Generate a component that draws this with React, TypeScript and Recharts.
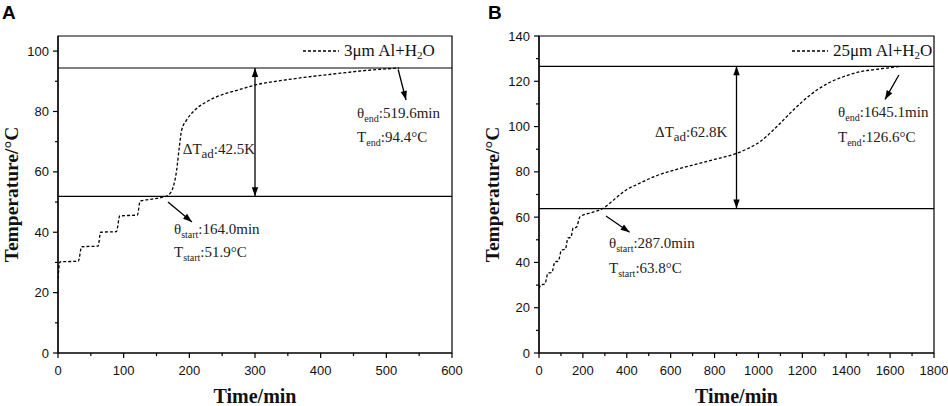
import React from "react";
import {
  LineChart, Line, XAxis, YAxis, ReferenceLine, ReferenceArea, ReferenceDot, Legend
} from "recharts";

// panel A: 3um powder
const timeA = [0, 3, 31, 36, 61, 65, 89, 94, 121, 125, 150, 164, 168, 175.6, 180.7, 184.8, 188.3, 196, 208.6, 226, 251.8, 277, 302.6, 335.5, 368, 419, 470, 519.6];
const tempA = [24.7, 30.2, 30.4, 35.2, 35.4, 40.0, 40.2, 45.4, 45.7, 50.3, 51.2, 51.9, 52.3, 55.1, 60.6, 68.3, 73.8, 77.2, 80.5, 83.2, 85.7, 87.3, 88.9, 90.1, 91.1, 92.4, 93.6, 94.4];
const xMajorA = [0, 100, 200, 300, 400, 500, 600];
const xMinorA = [50, 150, 250, 350, 450, 550];
const yMajorA = [0, 20, 40, 60, 80, 100];
const yMinorA = [10, 30, 50, 70, 90];

// panel B: 25um powder
const timeB = [0, 8, 27, 41, 58, 73, 87, 103, 120, 132, 145, 156, 170, 187, 240, 290, 350, 400, 442, 525, 673, 800, 893, 950, 1007, 1083, 1159, 1235, 1311, 1387, 1463, 1539, 1600, 1645.1];
const tempB = [28.5, 30, 30.5, 35.3, 35.5, 40.3, 40.5, 45.5, 45.8, 50.8, 51, 55.3, 55.5, 60.2, 62, 63.8, 68.4, 72.2, 74.2, 77.9, 82.3, 85.5, 87.9, 90.2, 93.3, 99.9, 107.3, 113.9, 118.8, 122.0, 124.2, 125.3, 126.0, 126.6];
const xMajorB = [0, 200, 400, 600, 800, 1000, 1200, 1400, 1600, 1800];
const xMinorB = [100, 300, 500, 700, 900, 1100, 1300, 1500, 1700];
const yMajorB = [0, 20, 40, 60, 80, 100, 120, 140];
const yMinorB = [10, 30, 50, 70, 90, 110, 130];

const serif = "'Liberation Serif', 'Times New Roman', serif";
const sans = "'Liberation Sans', Arial, sans-serif";

const toRows = (t: number[], v: number[]) => t.map((x, i) => ({ t: x, temp: v[i] }));

type Note = { x: number; y: number; main: string; sub: string; rest: string; subSize?: number };

const notesA: Note[] = [
  { x: 190, y: 67.5, main: "ΔT", sub: "ad", rest: ":42.5K", subSize: 13 },
  { x: 455.5, y: 79.5, main: "θ", sub: "end", rest: ":519.6min" },
  { x: 455.5, y: 71.6, main: "T", sub: "end", rest: ":94.4°C" },
  { x: 176.6, y: 41.0, main: "θ", sub: "start", rest: ":164.0min" },
  { x: 176.6, y: 33.5, main: "T", sub: "start", rest: ":51.9°C" },
];
const notesB: Note[] = [
  { x: 528.6, y: 97.6, main: "ΔT", sub: "ad", rest: ":62.8K", subSize: 13 },
  { x: 1362.6, y: 106.4, main: "θ", sub: "end", rest: ":1645.1min" },
  { x: 1362.6, y: 95.4, main: "T", sub: "end", rest: ":126.6°C" },
  { x: 319, y: 48.6, main: "θ", sub: "start", rest: ":287.0min" },
  { x: 319, y: 37.5, main: "T", sub: "start", rest: ":63.8°C" },
];

// arrows: [from, to], head at "to"; double = heads on both ends
const arrowsA = [
  { from: { x: 518, y: 93.9 }, to: { x: 530, y: 83.8 }, double: false },
  { from: { x: 167.5, y: 50.0 }, to: { x: 204, y: 43.4 }, double: false },
  { from: { x: 300, y: 51.9 }, to: { x: 300, y: 94.4 }, double: true },
];
const arrowsB = [
  { from: { x: 1640, y: 122.8 }, to: { x: 1577, y: 112.0 }, double: false },
  { from: { x: 305, y: 60.5 }, to: { x: 413, y: 53.3 }, double: false },
  { from: { x: 900, y: 63.8 }, to: { x: 900, y: 126.6 }, double: true },
];

function head(x1: number, y1: number, x2: number, y2: number) {
  const a = Math.atan2(y2 - y1, x2 - x1);
  const len = 9, w = 3.2;
  const bx = x2 - len * Math.cos(a), by = y2 - len * Math.sin(a);
  const px = -Math.sin(a) * w, py = Math.cos(a) * w;
  return `${x2},${y2} ${bx + px},${by + py} ${bx - px},${by - py}`;
}

const arrowShape = (double: boolean) => (p: any) => {
  const { x1, y1, x2, y2 } = p;
  return (
    <g>
      <line x1={x1} y1={y1} x2={x2} y2={y2} stroke="#000" strokeWidth={1.3} />
      <polygon points={head(x1, y1, x2, y2)} fill="#000" />
      {double && <polygon points={head(x2, y2, x1, y1)} fill="#000" />}
    </g>
  );
};

const noteLabel = (n: Note) => (p: any) => {
  const vb = p.viewBox || {};
  return (
    <text x={vb.x} y={vb.y + 5} fontFamily={serif} fontSize={15} fill="#222">
      <tspan>{n.main}</tspan>
      <tspan fontSize={n.subSize || 10} dy={4}>{n.sub}</tspan>
      <tspan dy={-4}>{n.rest}</tspan>
    </text>
  );
};

const xTick = (majors: number[]) => (p: any) => {
  const v = p.payload.value;
  const major = majors.includes(v);
  return (
    <g>
      <line x1={p.x} x2={p.x} y1={p.y} y2={p.y + (major ? 5 : 3)} stroke="#000" strokeWidth={1.2} />
      {major && (
        <text x={p.x} y={p.y + 22} textAnchor="middle" fontFamily={sans} fontSize={13} fill="#111">{v}</text>
      )}
    </g>
  );
};

const yTick = (majors: number[]) => (p: any) => {
  const v = p.payload.value;
  const major = majors.includes(v);
  return (
    <g>
      <line x1={p.x} x2={p.x - (major ? 5 : 3)} y1={p.y} y2={p.y} stroke="#000" strokeWidth={1.2} />
      {major && (
        <text x={p.x - 9} y={p.y + 4.5} textAnchor="end" fontFamily={sans} fontSize={13} fill="#111">{v}</text>
      )}
    </g>
  );
};

const legendBox = (label: string) => () => (
  <div style={{ display: "flex", alignItems: "center", fontFamily: serif, fontSize: 17, color: "#111", whiteSpace: "nowrap" }}>
    <svg width={36} height={10} style={{ marginRight: 5 }}>
      <line x1={0} x2={36} y1={5} y2={5} stroke="#000" strokeWidth={1.3} strokeDasharray="3 2" />
    </svg>
    <span>{label} Al+H<sub style={{ fontSize: 11, verticalAlign: -3 }}>2</sub>O</span>
  </div>
);

type PanelProps = {
  width: number;
  yAxisWidth: number;
  rightMargin: number;
  rows: { t: number; temp: number }[];
  xMax: number;
  yMax: number;
  xMajor: number[];
  xMinor: number[];
  yMajor: number[];
  yMinor: number[];
  tStart: number;
  tEnd: number;
  notes: Note[];
  arrows: { from: { x: number; y: number }; to: { x: number; y: number }; double: boolean }[];
  legend: string;
  legendLeft: number;
  yLabelX: number;
};

function Panel(pr: PanelProps) {
  return (
    <LineChart
      width={pr.width}
      height={406}
      data={pr.rows}
      margin={{ top: 36, right: pr.rightMargin, bottom: 0, left: 0 }}
    >
      <XAxis
        type="number"
        dataKey="t"
        domain={[0, pr.xMax]}
        ticks={[...pr.xMajor, ...pr.xMinor].sort((a, b) => a - b)}
        interval={0}
        height={53}
        tickLine={false}
        tickSize={0}
        tickMargin={0}
        tick={xTick(pr.xMajor)}
        axisLine={{ stroke: "#000", strokeWidth: 1.2 }}
        allowDataOverflow
        label={(p: any) => {
          const vb = p.viewBox;
          return (
            <text x={vb.x + vb.width / 2} y={vb.y + 50} textAnchor="middle" fontFamily={serif} fontWeight="bold" fontSize={20} fill="#111">
              Time/min
            </text>
          );
        }}
      />
      <YAxis
        type="number"
        domain={[0, pr.yMax]}
        ticks={[...pr.yMajor, ...pr.yMinor].sort((a, b) => a - b)}
        interval={0}
        width={pr.yAxisWidth}
        tickLine={false}
        tickSize={0}
        tickMargin={0}
        tick={yTick(pr.yMajor)}
        axisLine={{ stroke: "#000", strokeWidth: 1.2 }}
        allowDataOverflow
        label={(p: any) => {
          const vb = p.viewBox;
          const cy = vb.y + vb.height / 2;
          return (
            <text x={pr.yLabelX} y={cy} transform={`rotate(-90 ${pr.yLabelX} ${cy})`} textAnchor="middle" fontFamily={serif} fontWeight="bold" fontSize={19.5} fill="#111">
              Temperature/°C
            </text>
          );
        }}
      />
      <ReferenceArea x1={0} x2={pr.xMax} y1={0} y2={pr.yMax} fill="none" stroke="#000" strokeWidth={1.2} />
      <ReferenceLine y={pr.tEnd} stroke="#000" strokeWidth={1.2} />
      <ReferenceLine y={pr.tStart} stroke="#000" strokeWidth={1.2} />
      {pr.arrows.map((a, i) => (
        <ReferenceLine key={"a" + i} segment={[a.from, a.to]} shape={arrowShape(a.double)} />
      ))}
      {pr.notes.map((n, i) => (
        <ReferenceDot key={"n" + i} x={n.x} y={n.y} r={0} fill="none" stroke="none" label={noteLabel(n)} />
      ))}
      <Legend
        layout="horizontal"
        verticalAlign="middle"
        align="center"
        content={legendBox(pr.legend)}
        wrapperStyle={{ top: 41, left: pr.legendLeft, width: "auto" }}
      />
      <Line
        type="monotone"
        dataKey="temp"
        stroke="#000"
        strokeWidth={1.3}
        strokeDasharray="3 2"
        dot={false}
        isAnimationActive={false}
      />
    </LineChart>
  );
}

export default function App() {
  return (
    <div style={{ position: "absolute", left: 0, top: 0, width: 948, height: 406, background: "#fff", overflow: "hidden" }}>
      <div style={{ position: "absolute", left: 2, top: 3, fontFamily: sans, fontWeight: "bold", fontSize: 19, lineHeight: 1 }}>A</div>
      <div style={{ position: "absolute", left: 488, top: 3, fontFamily: sans, fontWeight: "bold", fontSize: 19, lineHeight: 1 }}>B</div>
      <div style={{ position: "absolute", left: 0, top: 0 }}>
        <Panel
          width={470}
          yAxisWidth={58}
          rightMargin={18}
          rows={toRows(timeA, tempA)}
          xMax={600}
          yMax={105}
          xMajor={xMajorA}
          xMinor={xMinorA}
          yMajor={yMajorA}
          yMinor={yMinorA}
          tStart={51.9}
          tEnd={94.4}
          notes={notesA}
          arrows={arrowsA}
          legend="3μm"
          legendLeft={303}
          yLabelX={18}
        />
      </div>
      <div style={{ position: "absolute", left: 470, top: 0 }}>
        <Panel
          width={478}
          yAxisWidth={69}
          rightMargin={14}
          rows={toRows(timeB, tempB)}
          xMax={1800}
          yMax={140}
          xMajor={xMajorB}
          xMinor={xMinorB}
          yMajor={yMajorB}
          yMinor={yMinorB}
          tStart={63.8}
          tEnd={126.6}
          notes={notesB}
          arrows={arrowsB}
          legend="25μm"
          legendLeft={322}
          yLabelX={29}
        />
      </div>
    </div>
  );
}
